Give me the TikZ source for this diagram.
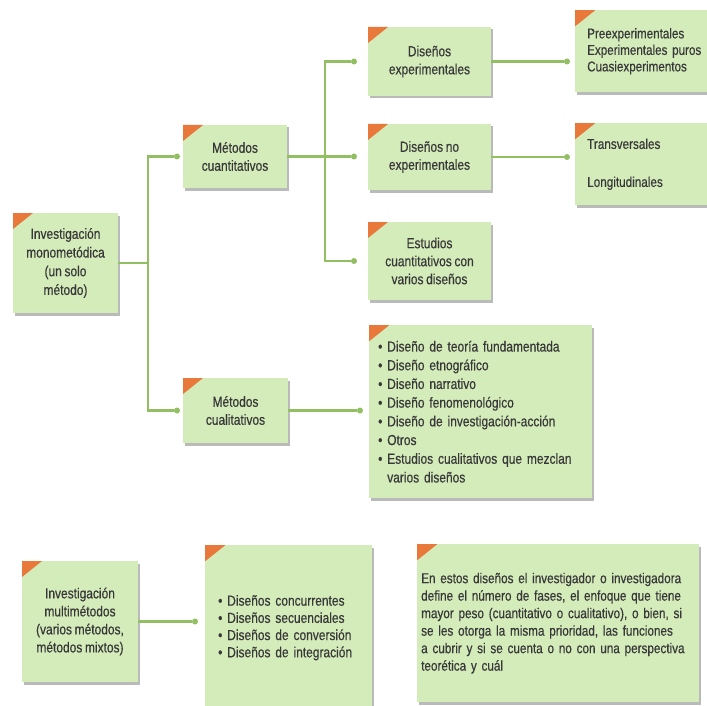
\documentclass[tikz,border=0pt]{standalone}
\usepackage{fontspec}
\setmainfont{Liberation Sans}[FakeStretch=0.82,FakeBold=0.4,WordSpace=0.8]
\usetikzlibrary{shadows}
\definecolor{boxfill}{HTML}{D4EBBA}
\definecolor{corner}{HTML}{E8793A}
\definecolor{link}{HTML}{93BF63}
\definecolor{ink}{HTML}{383838}
\tikzset{
  box/.style={fill=boxfill, inner sep=0pt, align=center,
    drop shadow={shadow xshift=1.5pt, shadow yshift=-2.5pt, opacity=0.45, fill=black!60},
    path picture={\fill[corner] (path picture bounding box.north west) -- ++(20pt,0pt) -- ++(-20pt,-16pt) -- cycle;}},
  lbox/.style={box, align=left, anchor=north west},
  dot/.style={circle, fill=link, inner sep=0pt, minimum size=6pt},
  link/.style={draw=link, line width=2.1pt}
}
\begin{document}
\begin{tikzpicture}[x=1pt, y=-1pt, font=\fontsize{14.6}{18}\selectfont, text=ink]
\clip (0,0) rectangle (707,706);
\fill[white] (0,0) rectangle (707,706);

% boxes
\node[box, minimum width=105pt, minimum height=100pt, font=\fontsize{14.6}{18.7}\selectfont] (inv) at (65.5,263) {Investigación\\monometódica\\(un solo\\método)};
\node[box, minimum width=104pt, minimum height=63pt] (cuant) at (235,156.5) {Métodos\\cuantitativos};
\node[box, minimum width=105pt, minimum height=65pt] (cual) at (235.5,410.5) {Métodos\\cualitativos};
\node[box, minimum width=123pt, minimum height=69pt] (dexp) at (429.5,61.5) {Diseños\\experimentales};
\node[box, minimum width=123pt, minimum height=66pt] (dnoexp) at (429.5,157) {Diseños no\\experimentales};
\node[box, minimum width=123pt, minimum height=78pt] (estud) at (429.5,261) {Estudios\\cuantitativos con\\varios diseños};
\node[lbox, text width=125pt, inner xsep=12pt, minimum height=82pt, font=\fontsize{14.2}{16.5}\selectfont] (pre) at (575,10) {Preexperimentales\\Experimentales puros\\Cuasiexperimentos};
\node[lbox, text width=125pt, inner xsep=12pt, minimum height=82pt, font=\fontsize{14.3}{19}\selectfont] (trans) at (575,123) {Transversales\\[19pt]Longitudinales};
\node[lbox, text width=205pt, inner xsep=9pt, minimum height=173pt, font=\fontsize{14.6}{18.7}\selectfont] (qlist) at (369,325) {\textbullet\ Diseño de teoría fundamentada\\\textbullet\ Diseño etnográfico\\\textbullet\ Diseño narrativo\\\textbullet\ Diseño fenomenológico\\\textbullet\ Diseño de investigación-acción\\\textbullet\ Otros\\\textbullet\ Estudios cualitativos que mezclan\\\phantom{\textbullet\ }varios diseños};

\node[box, minimum width=116pt, minimum height=121pt] (multi) at (80,621.5) {Investigación\\multimétodos\\(varios métodos,\\métodos mixtos)};
\node[lbox, text width=141pt, inner xsep=13pt, minimum height=165pt, font=\fontsize{14.6}{17.2}\selectfont] (mixlist) at (205,545) {\textbullet\ Diseños concurrentes\\\textbullet\ Diseños secuenciales\\\textbullet\ Diseños de conversión\\\textbullet\ Diseños de integración};
\node[lbox, text width=274pt, inner xsep=4pt, minimum height=158pt, font=\fontsize{14.3}{17.5}\selectfont] (para) at (417,544) {En estos diseños el investigador o investigadora\\define el número de fases, el enfoque que tiene\\mayor peso (cuantitativo o cualitativo), o bien, si\\se les otorga la misma prioridad, las funciones\\a cubrir y si se cuenta o no con una perspectiva\\teorética y cuál};

% junctions and dots
\coordinate (j1) at (148,263);
\coordinate (j2) at (325,156.5);
\node[dot] (d1) at (177,156.5) {};
\node[dot] (d2) at (177,410.5) {};
\node[dot] (d3) at (354,61.5) {};
\node[dot] (d4) at (354,156.5) {};
\node[dot] (d5) at (354,261) {};
\node[dot] (d6) at (567,61.5) {};
\node[dot] (d7) at (567,157) {};
\node[dot] (d8) at (360,410.5) {};
\node[dot] (d9) at (195,621.5) {};

% connectors
\draw[link] (inv.east) -- (j1);
\draw[link] (j1) |- (d1);
\draw[link] (j1) |- (d2);
\draw[link] (cuant.east) -- (d4);
\draw[link] (d3) -| (j2);
\draw[link] (d5) -| (j2);
\draw[link] (dexp.east) -- (d6);
\draw[link] (dnoexp.east) -- (d7);
\draw[link] (cual.east) -- (d8);
\draw[link] (multi.east) -- (d9);
\end{tikzpicture}
\end{document}
